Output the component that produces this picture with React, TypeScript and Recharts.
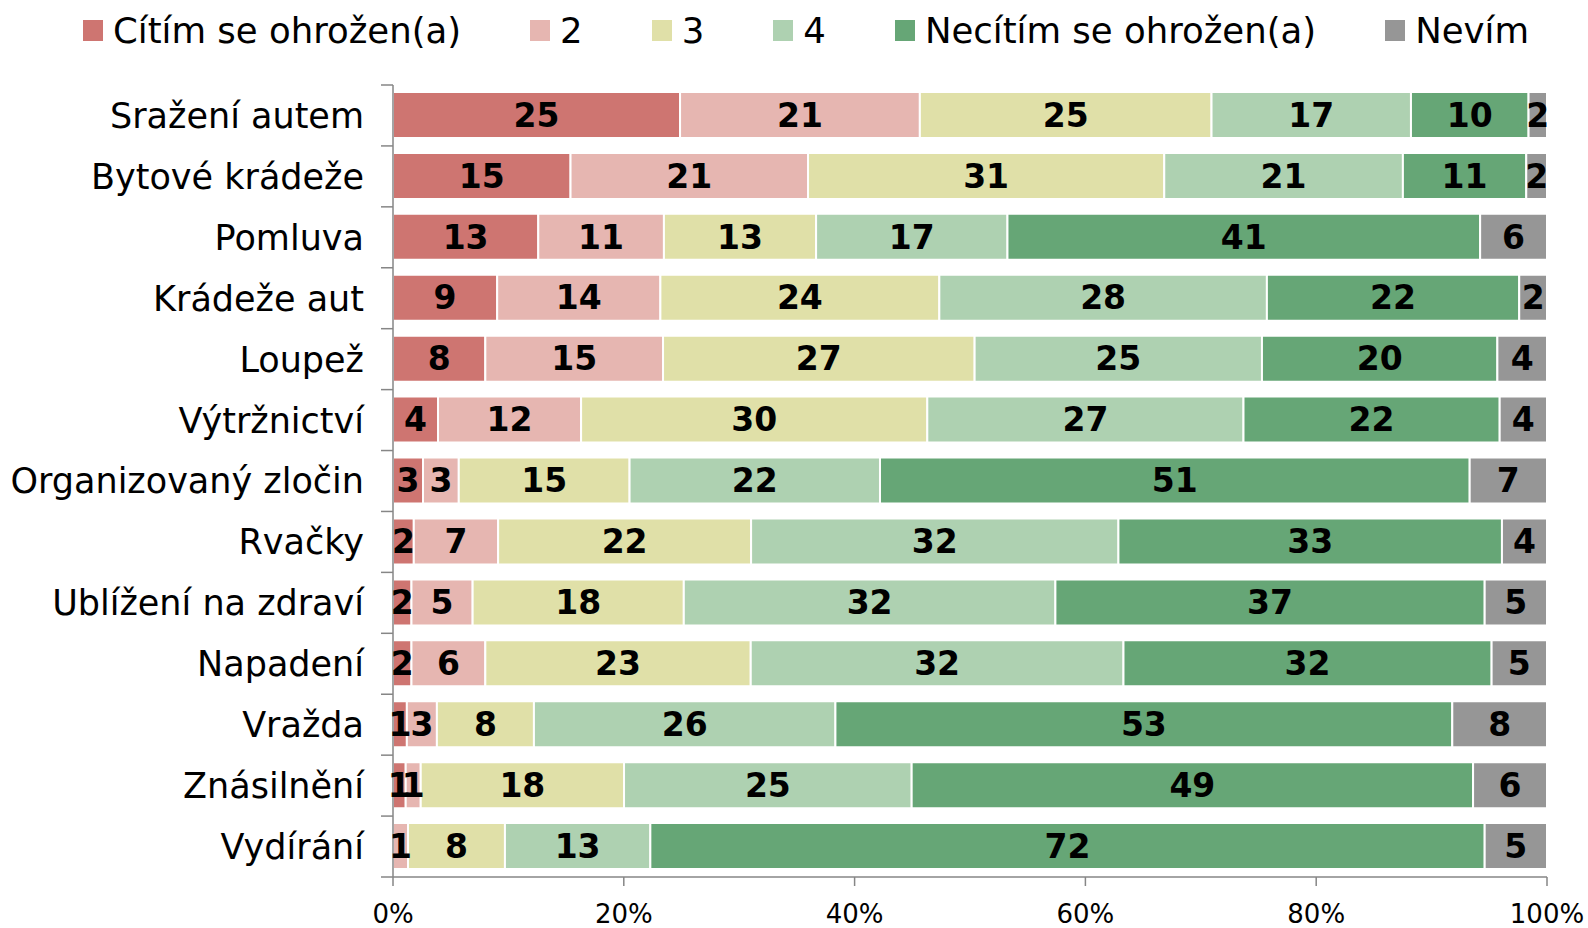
import { Bar, BarChart, LabelList, XAxis, YAxis } from "recharts";

const categories = [
  "Sražení autem",
  "Bytové krádeže",
  "Pomluva",
  "Krádeže aut",
  "Loupež",
  "Výtržnictví",
  "Organizovaný zločin",
  "Rvačky",
  "Ublížení na zdraví",
  "Napadení",
  "Vražda",
  "Znásilnění",
  "Vydírání",
];

const seriesNames = ["Cítím se ohrožen(a)", "2", "3", "4", "Necítím se ohrožen(a)", "Nevím"];
const seriesColors = ["#ce7571", "#e6b6b1", "#e0e0a8", "#aed1b1", "#66a676", "#969696"];

// shares in % (labels show them rounded)
const threatened = [24.9, 15.4, 12.6, 9.0, 8.0, 3.9, 2.6, 1.8, 1.6, 1.6, 1.2, 1.1, 0];
const level2 = [20.8, 20.6, 10.9, 14.1, 15.4, 12.4, 3.1, 7.3, 5.3, 6.4, 2.6, 1.3, 1.3];
const level3 = [25.3, 30.9, 13.2, 24.1, 27.0, 30.0, 14.8, 21.9, 18.3, 23.0, 8.4, 17.6, 8.4];
const level4 = [17.3, 20.7, 16.6, 28.3, 24.9, 27.4, 21.7, 31.8, 32.2, 32.3, 26.1, 24.9, 12.6];
const notThreatened = [10.2, 10.7, 41.0, 21.8, 20.4, 22.2, 51.1, 33.2, 37.2, 31.9, 53.4, 48.6, 72.3];
const dontKnow = [1.6, 1.8, 5.8, 2.4, 4.3, 4.1, 6.7, 3.9, 5.4, 4.8, 8.2, 6.4, 5.4];

const xTicks = [0, 0.2, 0.4, 0.6, 0.8, 1];

const seriesValues = [threatened, level2, level3, level4, notThreatened, dontKnow];
const keys = ["s0", "s1", "s2", "s3", "s4", "s5"];

const data = categories.map((name, i) => {
  const row: Record<string, string | number> = { name };
  keys.forEach((k, s) => {
    row[k] = seriesValues[s][i];
  });
  return row;
});

const W = 1588;
const H = 928;
const PLOT_LEFT = 393;
const PLOT_TOP = 85;
const PLOT_BOTTOM = 877;
const RIGHT = 41;
const BAND = (PLOT_BOTTOM - PLOT_TOP) / categories.length;
const AXIS = "#868686";
const FONT = "'DejaVu Sans', Verdana, sans-serif";

const CategoryTick = ({ y, payload, index }: any) => {
  const top = y - BAND / 2;
  return (
    <g>
      <line x1={PLOT_LEFT - 12} x2={PLOT_LEFT} y1={top} y2={top} stroke={AXIS} strokeWidth={1.5} />
      {index === categories.length - 1 && (
        <line
          x1={PLOT_LEFT - 12}
          x2={PLOT_LEFT}
          y1={y + BAND / 2}
          y2={y + BAND / 2}
          stroke={AXIS}
          strokeWidth={1.5}
        />
      )}
      <text
        x={PLOT_LEFT - 29}
        y={y}
        dy="0.355em"
        textAnchor="end"
        fill="#000"
        fontSize={35}
        fontFamily={FONT}
      >
        {payload.value}
      </text>
    </g>
  );
};

const ChartLegend = () => (
  <div
    style={{
      position: "absolute",
      top: 13,
      left: 83,
      height: 35,
      display: "flex",
      alignItems: "center",
      fontFamily: FONT,
      fontSize: 35.5,
      lineHeight: 1,
      whiteSpace: "nowrap",
      color: "#000",
    }}
  >
    {seriesNames.map((name, i) => (
      <div key={name} style={{ display: "flex", alignItems: "center", marginRight: 69 }}>
        <span
          style={{
            display: "inline-block",
            width: 20,
            height: 21,
            background: seriesColors[i],
            marginRight: 10,
          }}
        />
        <span>{name}</span>
      </div>
    ))}
  </div>
);

export default function App() {
  return (
    <div style={{ position: "relative", width: W, height: H, background: "#fff" }}>
      <style>{`body{margin:0}`}</style>
      <BarChart
        width={W}
        height={H}
        data={data}
        layout="vertical"
        stackOffset="expand"
        barSize={46}
        margin={{ top: PLOT_TOP, right: RIGHT, bottom: 0, left: 0 }}
      >
        <XAxis
          type="number"
          domain={[0, 1]}
          ticks={xTicks}
          tickFormatter={(v: number) => `${Math.round(v * 100)}%`}
          height={H - PLOT_BOTTOM}
          axisLine={{ stroke: AXIS, strokeWidth: 1.5 }}
          tickLine={{ stroke: AXIS, strokeWidth: 1.5 }}
          tickSize={9}
          tickMargin={19}
          tick={{ fill: "#000", fontSize: 26, fontFamily: FONT }}
        />
        <YAxis
          type="category"
          dataKey="name"
          width={PLOT_LEFT}
          axisLine={{ stroke: AXIS, strokeWidth: 1.5 }}
          tickLine={false}
          interval={0}
          tick={<CategoryTick />}
        />
        {keys.map((k, s) => (
          <Bar
            key={k}
            dataKey={k}
            name={seriesNames[s]}
            stackId="a"
            fill={seriesColors[s]}
            stroke="#fff"
            strokeWidth={2}
            isAnimationActive={false}
          >
            <LabelList
              dataKey={k}
              position="center"
              formatter={(v: any) => (v ? Math.round(Number(v)) : "")}
              fill="#000"
              fontSize={33}
              fontWeight="bold"
              fontFamily={FONT}
            />
          </Bar>
        ))}
      </BarChart>
      <ChartLegend />
    </div>
  );
}
